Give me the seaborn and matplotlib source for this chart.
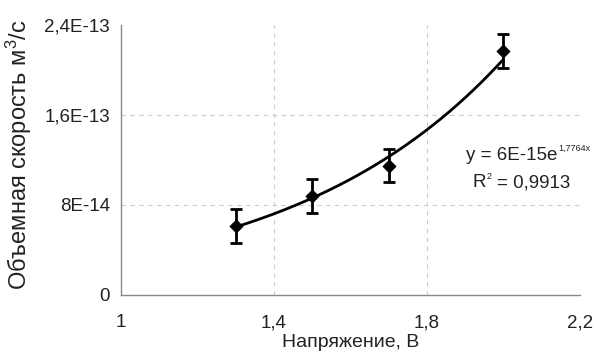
import numpy as np
import pandas as pd
import matplotlib
matplotlib.use("Agg")
import matplotlib.pyplot as plt
import seaborn as sns
from matplotlib.ticker import FixedLocator, FixedFormatter

# Data
voltage = [1.3, 1.5, 1.7, 2.0]
flow_rate = [6.1e-14, 8.8e-14, 11.5e-14, 21.7e-14]
flow_err = [1.5e-14, 1.5e-14, 1.5e-14, 1.5e-14]
fit_a = 6e-15
fit_b = 1.7764
x_ticks = [1.0, 1.4, 1.8, 2.2]
x_tick_labels = ["1", "1,4", "1,8", "2,2"]
y_ticks = [0, 8e-14, 1.6e-13, 2.4e-13]
y_tick_labels = ["0", "8E-14", "1,6E-13", "2,4E-13"]

sns.set_style("white")
plt.rcParams['font.family'] = ['Liberation Sans', 'DejaVu Sans']
plt.rcParams['mathtext.fontset'] = 'custom'
plt.rcParams['mathtext.rm'] = 'Liberation Sans'
plt.rcParams['mathtext.it'] = 'Liberation Sans'

W, H = 597, 354
fig = plt.figure(figsize=(W / 100, H / 100), dpi=100)
ax = fig.add_axes([0.203, 0.167, 0.768, 0.762])

# grid only at interior ticks
for xv in x_ticks[1:-1]:
    ax.axvline(xv, color="#cccccc", linestyle=(0, (4, 4)), linewidth=0.8, zorder=0)
for yv in y_ticks[1:-1]:
    ax.axhline(yv, color="#cccccc", linestyle=(0, (4, 4)), linewidth=0.8, zorder=0)

# trend line
xs = np.linspace(min(voltage), max(voltage), 200)
trend = pd.DataFrame({"x": xs, "y": fit_a * np.exp(fit_b * xs)})
sns.lineplot(data=trend, x="x", y="y", ax=ax, color="black", linewidth=2)

df = pd.DataFrame({"x": voltage, "y": flow_rate})
ax.errorbar(voltage, flow_rate, yerr=flow_err, fmt="none", ecolor="black",
            elinewidth=2, capsize=4, capthick=2, zorder=3)
sns.scatterplot(data=df, x="x", y="y", ax=ax, marker="D", s=45, color="black",
                edgecolor="black", zorder=4)

ax.set_xlim(1.0, 2.2)
ax.set_ylim(0, 2.4e-13)
ax.xaxis.set_major_locator(FixedLocator(x_ticks))
ax.xaxis.set_major_formatter(FixedFormatter(x_tick_labels))
ax.yaxis.set_major_locator(FixedLocator(y_ticks))
ax.yaxis.set_major_formatter(FixedFormatter(y_tick_labels))

ax.grid(False)
for s in ["top", "right"]:
    ax.spines[s].set_visible(False)
for s in ["left", "bottom"]:
    ax.spines[s].set_color("#888888")
    ax.spines[s].set_linewidth(1)
ax.tick_params(axis="both", length=4, color="#888888", labelsize=13.5,
               labelcolor="#222222", direction="out")
ax.tick_params(axis="x", pad=10)
ax.tick_params(axis="y", pad=4)

ax.set_xlabel("Напряжение, В", fontsize=14, color="#222222", labelpad=2)
ax.set_ylabel("Объемная скорость м$^3$/с", fontsize=17, color="#222222")
ax.yaxis.set_label_coords((34 - 121) / 459, 0.52)

def ftext(px, py, s, size, ha, va="center"):
    fig.text(px / W, 1 - py / H, s, fontsize=size, color="#222222", ha=ha, va=va)

ftext(557, 155, "y = 6E-15e", 13.5, "right")
ftext(558, 148, "1,7764x", 6.5, "left")
ftext(473, 183, "R", 13.5, "left")
ftext(487, 176, "2", 6.5, "left")
ftext(497, 183, "= 0,9913", 13.5, "left")

fig.savefig("out.png", dpi=100)
